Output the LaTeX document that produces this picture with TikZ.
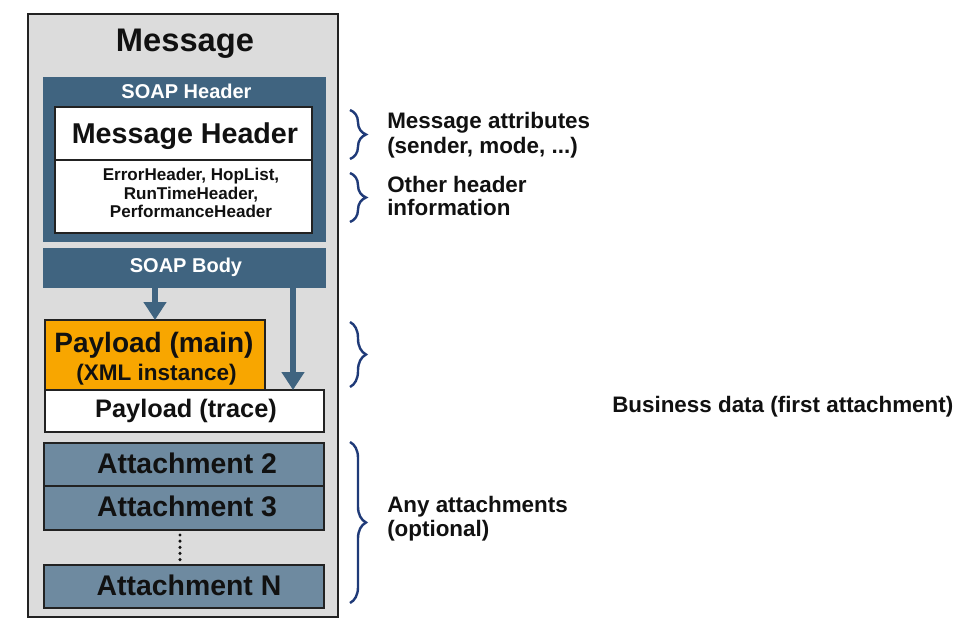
\documentclass[tikz,border=0pt]{standalone}
\usepackage{fontspec}
\setmainfont{Liberation Sans}
\usetikzlibrary{arrows.meta,decorations.pathreplacing,calc}
\definecolor{bggray}{HTML}{DCDCDC}
\definecolor{soapblue}{HTML}{406480}
\definecolor{attblue}{HTML}{6E8AA0}
\definecolor{payorange}{HTML}{F8A600}
\definecolor{bracecol}{HTML}{1F3A78}
\definecolor{edgecol}{HTML}{222222}
\definecolor{txt}{HTML}{111111}
\newcommand\myfs[1]{\fontsize{#1}{#1}\selectfont\bfseries}
\begin{document}
\begin{tikzpicture}[x=0.75pt,y=-0.75pt,
  box/.style={rectangle, inner sep=0pt, outer sep=0pt, anchor=north west},
  lbl/.style={anchor=base, inner sep=0pt, text=txt},
  rlbl/.style={anchor=base west, inner sep=0pt, text=txt, font=\myfs{16.8}},
  brc/.style={decorate, decoration={brace, amplitude=12pt}, draw=bracecol, line width=1.8pt},
  arr/.style={draw=soapblue, line width=4.5pt, -{Triangle[width=16.5pt,length=13.5pt]}},
  dotl/.style={draw=txt, line width=2.6pt, line cap=round, dash pattern=on 0pt off 4.6pt}]
\useasboundingbox (0,0) rectangle (975,639);
\fill[white] (0,0) rectangle (975,639);

% boxes
\node[box, fill=bggray, draw=edgecol, line width=1.1pt, minimum width=310*0.75pt, minimum height=603*0.75pt] (msg) at (28,14) {};
\node[box, fill=soapblue, minimum width=283*0.75pt, minimum height=165*0.75pt] (sh) at (43,77) {};
\node[box, fill=white, draw=edgecol, line width=1.3pt, minimum width=257*0.75pt, minimum height=53*0.75pt] (mh) at (55,107) {};
\node[box, fill=white, draw=edgecol, line width=1.3pt, minimum width=257*0.75pt, minimum height=73*0.75pt] (eh) at (55,160) {};
\node[box, fill=soapblue, minimum width=283*0.75pt, minimum height=40*0.75pt] (body) at (43,248) {};
\node[box, fill=payorange, draw=edgecol, line width=1.1pt, minimum width=220*0.75pt, minimum height=70*0.75pt] (pmain) at (45,320) {};
\node[box, fill=white, draw=edgecol, line width=1.1pt, minimum width=279*0.75pt, minimum height=42*0.75pt] (ptrace) at (45,390) {};
\node[box, fill=attblue, draw=edgecol, line width=1.1pt, minimum width=280*0.75pt, minimum height=43*0.75pt] (att2) at (44,443) {};
\node[box, fill=attblue, draw=edgecol, line width=1.1pt, minimum width=280*0.75pt, minimum height=44*0.75pt] (att3) at (44,486) {};
\node[box, fill=attblue, draw=edgecol, line width=1.1pt, minimum width=280*0.75pt, minimum height=43*0.75pt] (attN) at (44,565) {};

% labels
\node[lbl, font=\myfs{24.5}] (tmsg) at (185,51) {Message};
\node[lbl, font=\myfs{15}, text=white] (tsh) at (186.5,98) {SOAP Header};
\node[lbl, font=\myfs{21.5}] (tmh) at (185,143) {Message Header};
\node[lbl, font=\myfs{12.8}] (teh1) at (191,180) {ErrorHeader, HopList,};
\node[lbl, font=\myfs{12.8}] (teh2) at (191,199) {RunTimeHeader,};
\node[lbl, font=\myfs{12.8}] (teh3) at (191,217) {PerformanceHeader};
\node[lbl, font=\myfs{15}, text=white] (tbody) at (186,272) {SOAP Body};
\node[lbl, font=\myfs{21}] (tpm1) at (154,352) {Payload (main)};
\node[lbl, font=\myfs{16.9}] (tpm2) at (156.5,380) {(XML instance)};
\node[lbl, font=\myfs{19}] (tpt) at (186,417) {Payload (trace)};
\node[lbl, font=\myfs{21.3}] (ta2) at (187,473) {Attachment 2};
\node[lbl, font=\myfs{21.3}] (ta3) at (187,516) {Attachment 3};
\node[lbl, font=\myfs{21.3}] (taN) at (189,595) {Attachment N};

% arrows
\draw[arr] (pmain.north |- body.south) -- (pmain.north);
\coordinate (rt) at ($(ptrace.north east)+(-31,0)$);
\draw[arr] (rt |- body.south) -- (rt);

% dots
\coordinate (dtop) at ($(att3.south)+(-4,5)$);
\coordinate (dbot) at ($(attN.north)+(-4,-3)$);
\draw[dotl] (dtop) -- (dbot);

% braces
\coordinate (b1t) at (350,110); \coordinate (b1b) at (350,159);
\coordinate (b2t) at (350,173); \coordinate (b2b) at (350,222);
\coordinate (b3t) at (350,322); \coordinate (b3b) at (350,387);
\coordinate (b4t) at (350,442); \coordinate (b4b) at (350,603);
\draw[brc] (b1t) -- (b1b);
\draw[brc] (b2t) -- (b2b);
\draw[brc] (b3t) -- (b3b);
\draw[brc] (b4t) -- (b4b);

% right texts
\node[rlbl] (r1a) at (387,128) {Message attributes};
\node[rlbl] (r1b) at (387,153) {(sender, mode, ...)};
\node[rlbl] (r2a) at (387,192) {Other header};
\node[rlbl] (r2b) at (387,215) {information};
\node[rlbl] (r3) at (612,412) {Business data (first attachment)};
\node[rlbl] (r4a) at (387,512) {Any attachments};
\node[rlbl] (r4b) at (387,536) {(optional)};
\end{tikzpicture}
\end{document}
